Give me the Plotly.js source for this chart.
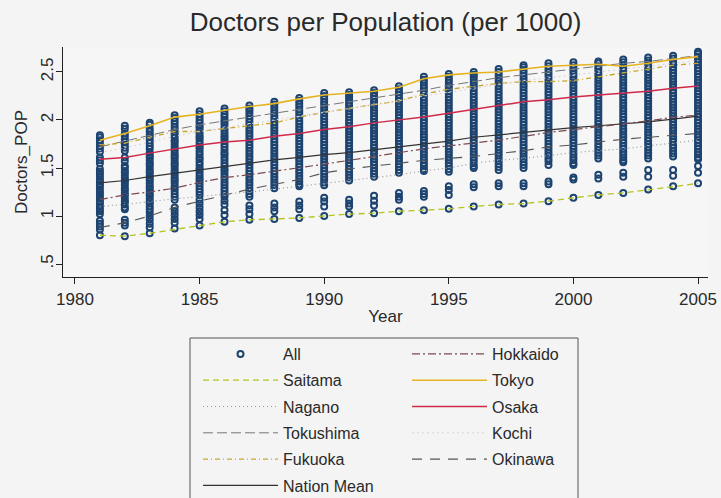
<!DOCTYPE html>
<html><head><meta charset="utf-8">
<script src="https://cdn.plot.ly/plotly-3.0.1.min.js"></script>
<style>html,body{margin:0;padding:0;background:#f4f4f4}</style>
</head><body><div id="chart" style="width:721px;height:498px"></div>
<script>
const years = [1981,1982,1983,1984,1985,1986,1987,1988,1989,1990,1991,1992,1993,1994,1995,1996,1997,1998,1999,2000,2001,2002,2003,2004,2005];

// "All": every prefecture, per year
const all1981 = [1.84,1.82,1.79,1.76,1.73,1.70,1.67,1.61,1.58,1.55,1.49,1.46,1.44,1.41,1.38,1.36,1.33,1.31,1.28,1.25,1.23,1.20,1.18,1.15,1.13,1.10,1.07,1.05,1.02,0.95,0.92,0.89,0.86,0.80];
const all1982 = [1.94,1.91,1.86,1.83,1.80,1.77,1.74,1.71,1.68,1.61,1.57,1.52,1.50,1.47,1.45,1.42,1.39,1.37,1.35,1.32,1.29,1.27,1.24,1.22,1.19,1.16,1.14,1.12,1.09,1.07,0.96,0.93,0.90,0.79];
const all1983 = [1.97,1.95,1.91,1.88,1.85,1.82,1.79,1.76,1.73,1.70,1.66,1.63,1.61,1.58,1.55,1.53,1.50,1.47,1.45,1.42,1.39,1.37,1.34,1.31,1.29,1.26,1.23,1.21,1.18,1.15,1.13,1.10,1.07,1.04,1.00,0.96,0.92,0.88,0.82];
const all1984 = [2.05,2.02,1.99,1.96,1.93,1.90,1.87,1.85,1.82,1.79,1.77,1.74,1.71,1.69,1.66,1.63,1.61,1.58,1.55,1.53,1.50,1.47,1.45,1.42,1.39,1.37,1.34,1.31,1.29,1.26,1.23,1.20,1.17,1.09,1.05,1.01,0.97,0.93,0.87];
const all1985 = [2.09,2.06,2.03,2.00,1.97,1.94,1.92,1.89,1.86,1.83,1.81,1.78,1.75,1.72,1.70,1.67,1.64,1.61,1.59,1.56,1.53,1.50,1.48,1.45,1.42,1.39,1.37,1.34,1.31,1.28,1.25,1.22,1.17,1.13,1.09,1.05,1.01,0.97,0.90];
const all1986 = [2.12,2.09,2.06,2.03,2.00,1.98,1.95,1.92,1.89,1.86,1.83,1.81,1.78,1.75,1.72,1.69,1.66,1.64,1.61,1.58,1.55,1.52,1.49,1.47,1.44,1.41,1.38,1.35,1.32,1.29,1.26,1.23,1.20,1.16,1.12,1.06,1.01,0.94];
const all1987 = [2.15,2.12,2.10,2.07,2.04,2.01,1.98,1.95,1.92,1.89,1.86,1.83,1.80,1.77,1.74,1.71,1.68,1.65,1.62,1.59,1.56,1.53,1.50,1.47,1.44,1.41,1.38,1.35,1.32,1.29,1.26,1.23,1.20,1.11,1.07,1.02,0.96];
const all1988 = [2.19,2.16,2.13,2.10,2.07,2.04,2.01,1.98,1.95,1.92,1.89,1.86,1.83,1.80,1.77,1.74,1.71,1.68,1.65,1.62,1.59,1.56,1.53,1.50,1.47,1.44,1.41,1.38,1.35,1.32,1.29,1.13,1.09,1.05,0.97];
const all1989 = [2.23,2.20,2.17,2.14,2.11,2.08,2.05,2.02,1.99,1.96,1.93,1.90,1.87,1.84,1.81,1.78,1.75,1.72,1.69,1.66,1.63,1.60,1.57,1.54,1.51,1.48,1.45,1.42,1.39,1.36,1.33,1.31,1.15,1.11,1.07,0.98];
const all1990 = [2.28,2.25,2.22,2.19,2.16,2.13,2.10,2.07,2.04,2.01,1.98,1.95,1.92,1.89,1.86,1.83,1.80,1.77,1.74,1.71,1.68,1.65,1.62,1.59,1.56,1.53,1.50,1.47,1.44,1.41,1.38,1.35,1.32,1.19,1.15,1.10,1.00];
const all1991 = [2.29,2.26,2.24,2.21,2.18,2.15,2.12,2.09,2.06,2.03,2.00,1.97,1.94,1.91,1.88,1.85,1.82,1.79,1.76,1.73,1.70,1.67,1.64,1.61,1.58,1.55,1.52,1.49,1.46,1.43,1.40,1.37,1.17,1.13,1.10,1.02];
const all1992 = [2.31,2.28,2.25,2.22,2.19,2.16,2.13,2.10,2.07,2.04,2.01,1.98,1.95,1.92,1.89,1.86,1.83,1.80,1.77,1.74,1.71,1.68,1.65,1.62,1.59,1.56,1.53,1.50,1.47,1.44,1.41,1.21,1.16,1.11,1.03];
const all1993 = [2.35,2.32,2.29,2.26,2.23,2.20,2.17,2.14,2.11,2.08,2.05,2.02,1.99,1.96,1.93,1.90,1.87,1.84,1.81,1.78,1.75,1.72,1.69,1.66,1.63,1.60,1.57,1.54,1.51,1.48,1.45,1.24,1.20,1.17,1.05];
const all1994 = [2.45,2.42,2.39,2.36,2.33,2.30,2.27,2.24,2.21,2.18,2.15,2.12,2.09,2.06,2.03,2.00,1.97,1.94,1.91,1.88,1.85,1.82,1.79,1.76,1.73,1.70,1.67,1.64,1.61,1.58,1.55,1.52,1.49,1.47,1.26,1.23,1.20,1.06];
const all1995 = [2.48,2.45,2.42,2.39,2.36,2.33,2.30,2.27,2.24,2.21,2.18,2.15,2.12,2.09,2.06,2.03,2.00,1.97,1.94,1.91,1.88,1.85,1.82,1.79,1.76,1.73,1.70,1.67,1.64,1.61,1.58,1.55,1.52,1.49,1.46,1.31,1.27,1.22,1.075];
const all1996 = [2.50,2.47,2.45,2.42,2.39,2.36,2.33,2.30,2.27,2.24,2.21,2.18,2.15,2.12,2.09,2.06,2.03,2.00,1.97,1.94,1.91,1.88,1.85,1.82,1.79,1.76,1.73,1.70,1.67,1.64,1.61,1.58,1.55,1.52,1.50,1.33,1.30,1.10];
const all1997 = [2.53,2.50,2.47,2.44,2.41,2.38,2.35,2.32,2.29,2.26,2.23,2.20,2.17,2.14,2.11,2.08,2.05,2.02,1.99,1.96,1.93,1.90,1.87,1.84,1.81,1.78,1.75,1.72,1.69,1.66,1.63,1.60,1.57,1.54,1.51,1.48,1.34,1.31,1.12];
const all1998 = [2.57,2.55,2.52,2.49,2.46,2.43,2.40,2.37,2.34,2.31,2.28,2.25,2.22,2.19,2.16,2.13,2.10,2.07,2.04,2.01,1.98,1.95,1.92,1.89,1.86,1.83,1.80,1.77,1.74,1.71,1.68,1.65,1.62,1.59,1.56,1.53,1.50,1.34,1.31,1.13];
const all1999 = [2.59,2.56,2.53,2.50,2.47,2.44,2.41,2.38,2.35,2.32,2.29,2.26,2.23,2.20,2.17,2.14,2.11,2.08,2.05,2.02,1.99,1.96,1.93,1.90,1.87,1.84,1.81,1.78,1.75,1.72,1.69,1.66,1.63,1.60,1.57,1.53,1.36,1.33,1.155];
const all2000 = [2.60,2.57,2.54,2.51,2.48,2.45,2.42,2.39,2.36,2.33,2.30,2.27,2.24,2.21,2.18,2.15,2.12,2.09,2.06,2.03,2.00,1.97,1.94,1.91,1.88,1.85,1.82,1.79,1.76,1.73,1.70,1.67,1.64,1.61,1.58,1.55,1.53,1.40,1.38,1.19];
const all2001 = [2.61,2.59,2.56,2.53,2.50,2.47,2.44,2.41,2.38,2.35,2.32,2.29,2.26,2.23,2.20,2.17,2.14,2.11,2.08,2.05,2.02,1.99,1.96,1.93,1.90,1.87,1.84,1.81,1.78,1.75,1.72,1.69,1.66,1.63,1.60,1.43,1.39,1.22];
const all2002 = [2.63,2.60,2.57,2.54,2.51,2.48,2.45,2.42,2.39,2.36,2.33,2.30,2.27,2.24,2.21,2.18,2.15,2.12,2.09,2.06,2.03,2.00,1.97,1.94,1.91,1.88,1.85,1.82,1.79,1.76,1.73,1.70,1.67,1.64,1.61,1.58,1.56,1.45,1.41,1.24];
const all2003 = [2.65,2.62,2.59,2.56,2.53,2.50,2.47,2.44,2.41,2.38,2.35,2.32,2.29,2.26,2.23,2.20,2.17,2.14,2.11,2.08,2.05,2.02,1.99,1.96,1.93,1.90,1.87,1.84,1.81,1.78,1.75,1.72,1.69,1.66,1.63,1.60,1.48,1.41,1.275];
const all2004 = [2.67,2.64,2.61,2.58,2.55,2.52,2.49,2.46,2.43,2.40,2.37,2.34,2.31,2.28,2.25,2.22,2.19,2.16,2.13,2.10,2.07,2.04,2.01,1.98,1.95,1.92,1.89,1.86,1.83,1.80,1.77,1.74,1.71,1.68,1.65,1.62,1.48,1.42,1.31];
const all2005 = [2.71,2.69,2.66,2.63,2.60,2.57,2.54,2.51,2.48,2.45,2.42,2.39,2.36,2.33,2.30,2.27,2.24,2.21,2.18,2.15,2.12,2.09,2.06,2.03,2.00,1.97,1.94,1.91,1.88,1.85,1.82,1.79,1.76,1.73,1.70,1.67,1.64,1.61,1.59,1.52,1.45,1.34];
const allByYear = [all1981,all1982,all1983,all1984,all1985,all1986,all1987,all1988,all1989,all1990,all1991,all1992,all1993,all1994,all1995,all1996,all1997,all1998,all1999,all2000,all2001,all2002,all2003,all2004,all2005];

const hokkaido  = [1.17,1.22,1.25,1.29,1.35,1.40,1.43,1.465,1.50,1.54,1.58,1.62,1.66,1.70,1.73,1.76,1.79,1.83,1.87,1.90,1.93,1.96,1.99,2.03,2.05];
const saitama   = [0.80,0.79,0.82,0.86,0.90,0.94,0.96,0.97,0.98,1.00,1.02,1.03,1.05,1.06,1.075,1.10,1.12,1.13,1.155,1.19,1.22,1.24,1.275,1.31,1.34];
const tokyo     = [1.79,1.86,1.94,2.03,2.06,2.10,2.14,2.17,2.22,2.26,2.28,2.30,2.34,2.43,2.47,2.49,2.50,2.53,2.56,2.57,2.58,2.56,2.59,2.63,2.66];
const nagano    = [1.10,1.12,1.15,1.18,1.20,1.23,1.25,1.28,1.31,1.34,1.37,1.40,1.43,1.47,1.50,1.55,1.58,1.60,1.63,1.66,1.68,1.70,1.73,1.76,1.79];
const osaka     = [1.59,1.61,1.655,1.70,1.74,1.77,1.79,1.83,1.86,1.90,1.93,1.97,2.00,2.03,2.07,2.11,2.15,2.19,2.21,2.24,2.26,2.28,2.30,2.33,2.355];
const tokushima = [1.72,1.78,1.84,1.90,1.95,1.99,2.03,2.07,2.11,2.15,2.19,2.23,2.27,2.31,2.36,2.40,2.44,2.47,2.50,2.53,2.56,2.59,2.61,2.64,2.67];
const kochi     = [1.66,1.71,1.77,1.83,1.88,1.92,1.96,2.00,2.04,2.08,2.12,2.16,2.20,2.25,2.29,2.33,2.37,2.41,2.44,2.47,2.50,2.53,2.56,2.59,2.62];
const fukuoka   = [1.74,1.76,1.82,1.88,1.88,1.91,1.94,1.97,2.03,2.08,2.12,2.16,2.20,2.27,2.32,2.35,2.38,2.40,2.40,2.41,2.45,2.49,2.53,2.57,2.59];
const okinawa   = [0.88,0.93,1.00,1.09,1.155,1.22,1.28,1.33,1.38,1.45,1.49,1.52,1.55,1.58,1.60,1.62,1.65,1.68,1.72,1.74,1.77,1.80,1.82,1.84,1.86];
const nationMean= [1.345,1.37,1.41,1.445,1.48,1.51,1.55,1.585,1.61,1.64,1.66,1.69,1.72,1.75,1.78,1.82,1.845,1.87,1.90,1.92,1.94,1.96,1.98,2.01,2.04];

const xTicks = [1980,1985,1990,1995,2000,2005];
const yTicks = [0.5,1,1.5,2,2.5];
const yTickText = ['.5','1','1.5','2','2.5'];

const allX = [], allY = [];
allByYear.forEach((vals, i) => vals.forEach(v => { allX.push(years[i]); allY.push(v); }));

function line(name, y, color, dash, width, legend, group) {
  return {type:'scatter', mode:'lines', name, x: years, y, legend, legendgroup: group,
          line:{color, dash, width}, hoverinfo:'skip'};
}

const traces = [
  {type:'scatter', mode:'markers', name:'All', x: allX, y: allY, legend:'legend', legendgroup:'g1',
   marker:{symbol:'circle-open', size:6, color:'#1d4470', line:{width:2, color:'#1d4470'}}},
  line('Saitama', saitama, '#b3c41c', '6px,4px', 1.3, 'legend', 'g2'),
  line('Nagano', nagano, '#9a9a9a', '1px,3px', 1.2, 'legend', 'g3'),
  line('Tokushima', tokushima, '#777777', '10px,4px', 1.0, 'legend', 'g4'),
  line('Fukuoka', fukuoka, '#c9a62a', '5px,3px,1px,3px', 1.3, 'legend', 'g5'),
  line('Nation Mean', nationMean, '#333333', 'solid', 1.2, 'legend', 'g6'),
  line('Hokkaido', hokkaido, '#7a4a50', '8px,3px,2px,3px', 1.2, 'legend2', 'h1'),
  line('Tokyo', tokyo, '#e6b422', 'solid', 1.6, 'legend2', 'h2'),
  line('Osaka', osaka, '#d02a4a', 'solid', 1.5, 'legend2', 'h3'),
  line('Kochi', kochi, '#dcd2d8', '2px,3px', 1.0, 'legend2', 'h4'),
  line('Okinawa', okinawa, '#555555', '10px,8px', 1.1, 'legend2', 'h5')
];

const F = 'Liberation Sans, Arial, sans-serif';
const legendCommon = {
  orientation:'v', bgcolor:'rgba(0,0,0,0)', borderwidth:0, font:{family:F, size:16, color:'#2a2a2a'},
  traceorder:'grouped', tracegroupgap:2.5, itemwidth:75, xanchor:'left', yanchor:'top', itemclick:false
};

const layout = {
  width:721, height:498,
  margin:{l:63, r:13, t:47, b:221, autoexpand:false},
  paper_bgcolor:'#f4f4f4', plot_bgcolor:'#f6f6f6',
  font:{family:F, color:'#2a2a2a'},
  title:{text:'Doctors per Population (per 1000)', font:{family:F, size:26, color:'#2a2a2a'},
         x:0.5, xref:'paper', y:1-22/498, yref:'container', yanchor:'middle'},
  xaxis:{range:[1979.52, 2005.4], tickvals:xTicks, showgrid:false, zeroline:false,
         showline:true, linecolor:'#222', linewidth:1.3, ticks:'outside', ticklen:6, tickcolor:'#222',
         tickfont:{family:F, size:17, color:'#2a2a2a'},
         title:{text:'Year', font:{family:F, size:17, color:'#2a2a2a'}, standoff:2}},
  yaxis:{range:[0.365, 2.76], tickvals:yTicks, ticktext:yTickText, tickangle:-90, showgrid:false, zeroline:false,
         showline:true, linecolor:'#222', linewidth:1.3, ticks:'outside', ticklen:6, tickcolor:'#222',
         ticklabelstandoff:-4,
         tickfont:{family:F, size:17, color:'#2a2a2a'},
         title:{text:'Doctors_POP', font:{family:F, size:17, color:'#2a2a2a'}, standoff:6}},
  legend: Object.assign({}, legendCommon, {x:(198-63)/645, y:(277-337)/230}),
  legend2: Object.assign({}, legendCommon, {x:(407-63)/645, y:(277-337)/230}),
  shapes:[{type:'rect', xref:'paper', yref:'paper', x0:(190-63)/645, x1:(578-63)/645,
           y0:(277-338)/230, y1:(277-520)/230, line:{color:'#555', width:1}, fillcolor:'rgba(0,0,0,0)'}],
  showlegend:true
};

Plotly.newPlot('chart', traces, layout, {displayModeBar:false, staticPlot:true});
</script>
</body></html>
